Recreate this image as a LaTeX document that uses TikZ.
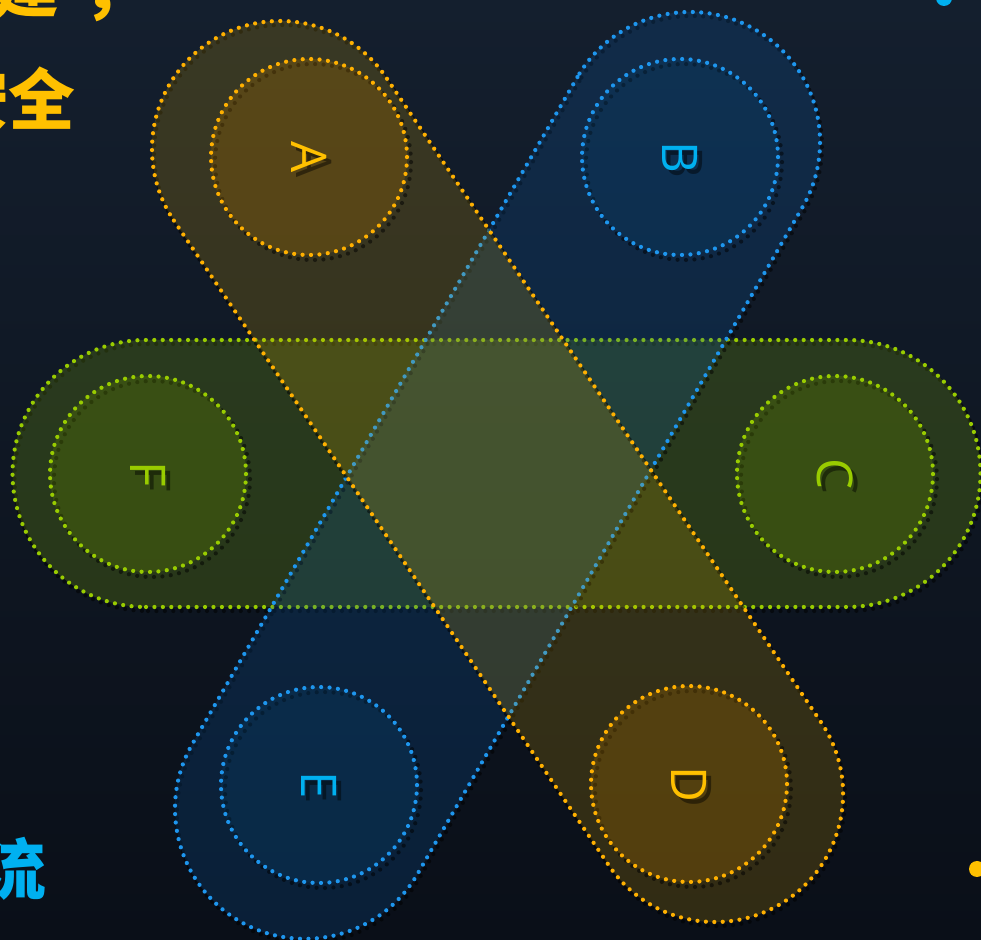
\documentclass[tikz,border=0pt]{standalone}
\usepackage{fontspec}
\usetikzlibrary{calc}
\newfontfamily\cjk{Noto Sans CJK SC}
\newfontfamily\lettfont{Open Sans}
\definecolor{bgtop}{HTML}{141F2E}
\definecolor{bgbot}{HTML}{0A0F18}
\definecolor{amberline}{HTML}{FFB000}
\definecolor{skyline}{HTML}{1E96EE}
\definecolor{limeline}{HTML}{99CC00}
\definecolor{amberband}{HTML}{DCAA00}
\definecolor{skyband}{HTML}{0A5AA8}
\definecolor{limeband}{HTML}{99CC00}
\definecolor{amberfill}{HTML}{A06A00}
\definecolor{skyfill}{HTML}{08406A}
\definecolor{limefill}{HTML}{608300}
\definecolor{amberlabel}{HTML}{FFC000}
\definecolor{skylabel}{HTML}{00B0F0}
\definecolor{limelabel}{HTML}{99CC00}
% stadium shape along the x axis: length, radius
\newcommand{\capsule}[2]{(0,-#2) -- (#1,-#2) arc[start angle=-90,end angle=90,radius=#2] -- (0,#2) arc[start angle=90,end angle=270,radius=#2] -- cycle}

\begin{document}
\begin{tikzpicture}[x=0.02cm, y=0.02cm,
    dots/.style={line width=2.4pt, line cap=round, dash pattern=on 0pt off 4.8pt},
    shadowdots/.style={dots, draw=black, opacity=0.5},
    letter/.style={font=\lettfont\fontsize{28}{30}\selectfont, rotate=-90, inner sep=0pt},
    bigtext/.style={font=\cjk\bfseries\fontsize{38}{40}\selectfont, inner sep=0pt, anchor=base east}]
  \useasboundingbox (0,0) rectangle (981,940);
  \clip (0,0) rectangle (981,940);
  \shade[top color=bgtop, bottom color=bgbot] (0,0) rectangle (981,940);

  \coordinate (cA) at (309,783);
  \coordinate (cB) at (680,783);
  \coordinate (cC) at (835,466);
  \coordinate (cD) at (689,156);
  \coordinate (cE) at (319,155);
  \coordinate (cF) at (148,466);

  % green band F--C
  \draw[shadowdots, shift={(148,462.5)}] \capsule{701}{133.5};
  \draw[dots, draw=limeline, fill=limeband, fill opacity=0.19, shift={(146,466.5)}] \capsule{701}{133.5};
  % blue band B--E
  \draw[shadowdots, shift={(692,794)}, rotate=-120] \capsule{770}{130};
  \draw[dots, draw=skyline, fill=skyband, fill opacity=0.22, shift={(690,798)}, rotate=-120] \capsule{770}{130};
  % orange band A--D
  \draw[shadowdots, shift={(282,787)}, rotate=-56] \capsule{778}{128};
  \draw[dots, draw=amberline, fill=amberband, fill opacity=0.19, shift={(280,791)}, rotate=-56] \capsule{778}{128};

  % rings
  \draw[shadowdots] ($(cA)+(4,-5)$) circle[radius=98];
  \draw[dots, draw=amberline, fill=amberfill, fill opacity=0.3] (cA) circle[radius=98];
  \draw[shadowdots] ($(cB)+(4,-5)$) circle[radius=98];
  \draw[dots, draw=skyline, fill=skyfill, fill opacity=0.3] (cB) circle[radius=98];
  \draw[shadowdots] ($(cC)+(4,-5)$) circle[radius=98];
  \draw[dots, draw=limeline, fill=limefill, fill opacity=0.3] (cC) circle[radius=98];
  \draw[shadowdots] ($(cD)+(4,-5)$) circle[radius=98];
  \draw[dots, draw=amberline, fill=amberfill, fill opacity=0.3] (cD) circle[radius=98];
  \draw[shadowdots] ($(cE)+(4,-5)$) circle[radius=98];
  \draw[dots, draw=skyline, fill=skyfill, fill opacity=0.3] (cE) circle[radius=98];
  \draw[shadowdots] ($(cF)+(4,-5)$) circle[radius=98];
  \draw[dots, draw=limeline, fill=limefill, fill opacity=0.3] (cF) circle[radius=98];

  % letters
  \foreach \n/\c in {A/amberlabel, B/skylabel, C/limelabel, D/amberlabel, E/skylabel, F/limelabel} {
    \node[letter, text=black, opacity=0.45] at ($(c\n)+(5,-5)$) {\n};
    \node[letter, text=\c] (\n) at (c\n) {\n};
  }

  % cut-off text at the edges
  \node[bigtext, text=amberlabel] (line1) at (150,928) {建\kern0.35em，};
  \node[bigtext, text=amberlabel] (line2) at (76,815) {安全};
  \node[bigtext, text=skylabel] (line3) at (47,45) {流};
  \fill[skylabel] (944,942) circle[radius=8];
  \fill[amberlabel] (977,71) circle[radius=8];
\end{tikzpicture}
\end{document}
